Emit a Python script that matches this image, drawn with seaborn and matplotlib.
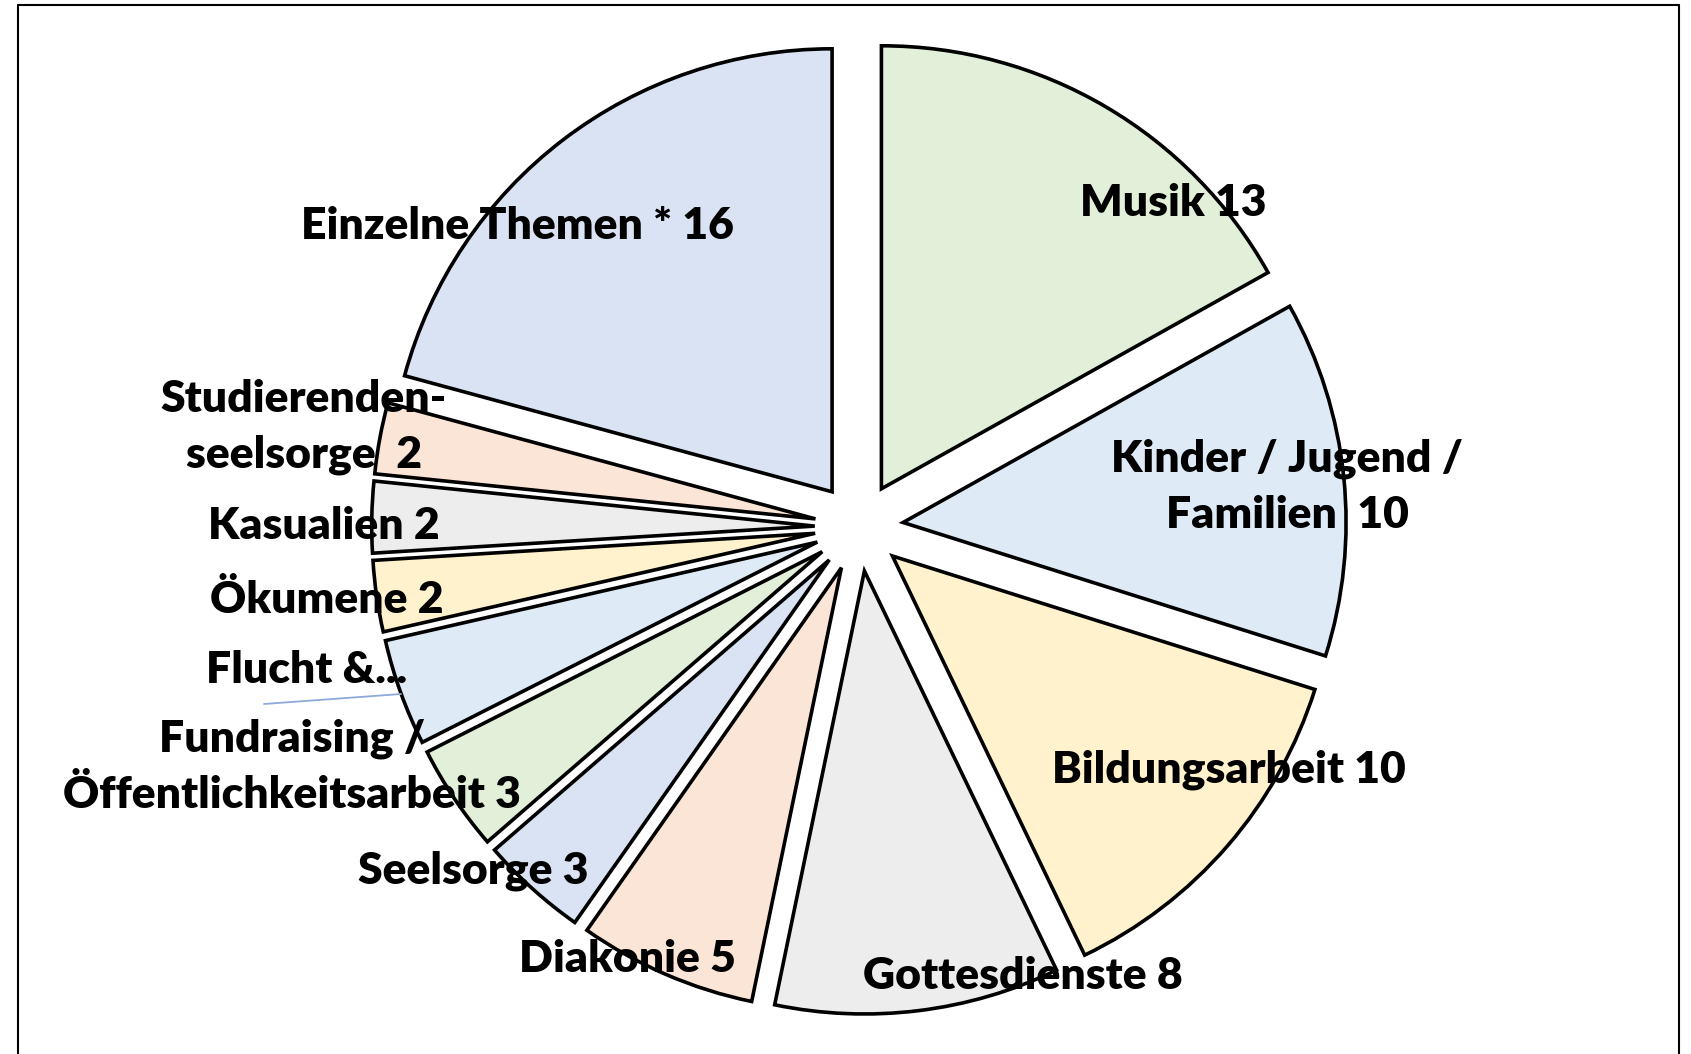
import matplotlib
matplotlib.use("Agg")
import matplotlib.pyplot as plt
import seaborn as sns
from matplotlib.lines import Line2D

# Data (clockwise from 12 o'clock)
categories = ["Musik", "Kinder / Jugend / Familien", "Bildungsarbeit", "Gottesdienste",
              "Diakonie", "Seelsorge", "Fundraising / Öffentlichkeitsarbeit", "Flucht & Migration",
              "Ökumene", "Kasualien", "Studierendenseelsorge", "Einzelne Themen *"]
values = [13, 10, 10, 8, 5, 3, 3, 3, 2, 2, 2, 16]
label_texts = ["Musik 13", "Kinder / Jugend /\nFamilien  10", "Bildungsarbeit 10", "Gottesdienste 8",
               "Diakonie 5", "Seelsorge 3", "Fundraising /\nÖffentlichkeitsarbeit 3", "Flucht &...",
               "Ökumene 2", "Kasualien 2", "Studierenden-\nseelsorge  2", "Einzelne Themen * 16"]
colors = ["#E2F0D9", "#DEEBF7", "#FFF2CC", "#EDEDED", "#FBE5D6", "#DAE3F3",
          "#E2F0D9", "#DEEBF7", "#FFF2CC", "#EDEDED", "#FBE5D6", "#DAE3F3"]

# label anchor positions in pixels (figure is 1691 x 1054)
label_px = [(1173, 203), (1287, 487), (1229, 770), (1023, 976), (627, 959), (473, 871),
            (292, 767), (307, 670), (327, 600), (324, 526), (304, 427), (517, 226)]

W, H = 1691, 1054
CX, CY, R = 859, 527, 443

sns.set_theme(style="white")
plt.rcParams['font.family'] = ['Lato', 'DejaVu Sans']

fig = plt.figure(figsize=(W / 100, H / 100), dpi=100)
ax = fig.add_axes([0, 0, 1, 1])

ax.pie(values, colors=colors, startangle=90, counterclock=False, radius=1,
       explode=[0.1] * len(values),
       wedgeprops=dict(edgecolor="black", linewidth=2.6, joinstyle="miter"))

ax.set_xlim(-CX / R, (W - CX) / R)
ax.set_ylim(-(H - CY) / R, CY / R)
ax.set_aspect('auto')
ax.axis('off')

def to_data(px, py):
    return (px - CX) / R, (CY - py) / R

for txt, (px, py) in zip(label_texts, label_px):
    x, y = to_data(px, py)
    ax.text(x, y, txt, ha='center', va='center', fontsize=32, fontweight='heavy',
            color='black', linespacing=1.48)

# thin leader line near "Flucht &..."
x0, y0 = to_data(264, 704)
x1, y1 = to_data(401, 694)
ax.plot([x0, x1], [y0, y1], color="#8EA9DB", linewidth=1.3)

# chart frame (no bottom edge)
fr = dict(color="black", linewidth=1.5, transform=fig.transFigure)
fig.add_artist(Line2D([18 / W, 1679 / W], [1 - 5 / H, 1 - 5 / H], **fr))
fig.add_artist(Line2D([18 / W, 18 / W], [0, 1 - 5 / H], **fr))
fig.add_artist(Line2D([1679 / W, 1679 / W], [0, 1 - 5 / H], **fr))

fig.savefig("out.png", dpi=100, facecolor="white")
plt.close(fig)
